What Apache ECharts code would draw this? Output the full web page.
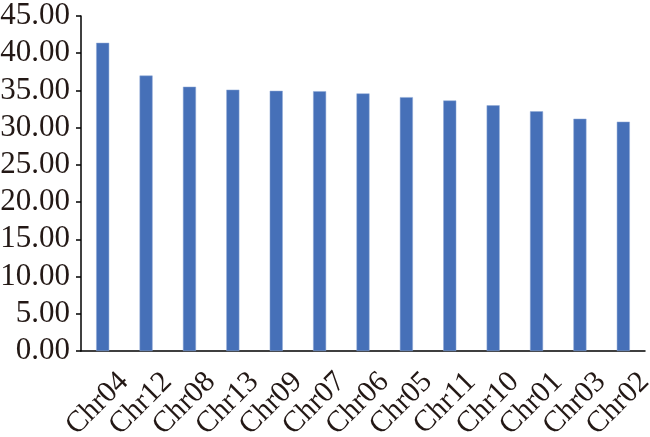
<!DOCTYPE html>
<html><head><meta charset="utf-8">
<script src="https://cdn.jsdelivr.net/npm/echarts@6/dist/echarts.min.js"></script>
<style>html,body{margin:0;padding:0;background:#fff}#c{width:650px;height:437px}</style>
</head><body><div id="c"></div>
<script>
const categories = ['Chr04','Chr12','Chr08','Chr13','Chr09','Chr07','Chr06','Chr05','Chr11','Chr10','Chr01','Chr03','Chr02'];
const values = [41.4, 37.0, 35.5, 35.1, 34.95, 34.9, 34.6, 34.1, 33.65, 33.0, 32.2, 31.2, 30.8];
const yMin = 0, yMax = 45, yStep = 5;
const font = 'Liberation Serif';
const chart = echarts.init(document.getElementById('c'));
chart.setOption({
  animation: false,
  grid: {left: 81, right: 5, top: 16, bottom: 86, containLabel: false, outerBoundsMode: 'none'},
  xAxis: {
    type: 'category', data: categories,
    axisLine: {lineStyle: {color: '#000', width: 1.5}},
    axisTick: {show: false},
    axisLabel: {rotate: 45, color: '#231815', fontFamily: font, fontSize: 30, margin: 5,
      interval: 0, verticalAlign: 'top', lineHeight: 60, hideOverlap: false}
  },
  yAxis: {
    type: 'value', min: yMin, max: yMax, interval: yStep,
    axisLine: {show: true, lineStyle: {color: '#000', width: 1.5}},
    axisTick: {show: true, length: 5, lineStyle: {color: '#000', width: 1.5}},
    splitLine: {show: false},
    axisLabel: {color: '#231815', fontFamily: font, fontSize: 31, margin: 11, formatter: v => v.toFixed(2)}
  },
  series: [{
    type: 'bar', data: values, barWidth: '30%',
    itemStyle: {color: '#4670B8', borderColor: '#8FA8D6', borderWidth: 0.5}
  }]
});
</script></body></html>
